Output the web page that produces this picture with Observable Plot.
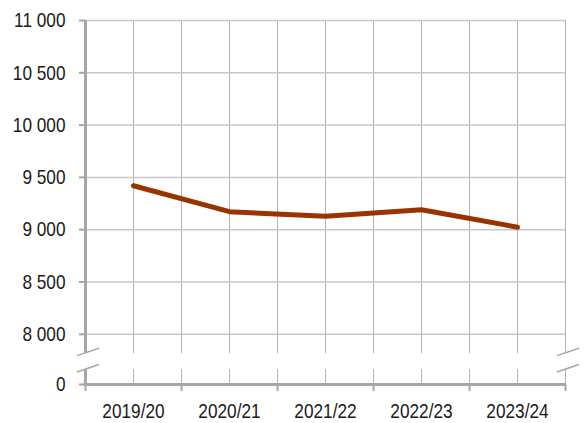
<!DOCTYPE html>
<html>
<head>
<meta charset="utf-8">
<script src="https://cdn.jsdelivr.net/npm/d3@7"></script>
<script src="https://cdn.jsdelivr.net/npm/@observablehq/plot@0.6"></script>
<style>
  body { margin: 0; background: #fff; }
</style>
</head>
<body>
<div id="chart"></div>
<script>
const years = ["2019/20", "2020/21", "2021/22", "2022/23", "2023/24"];
const values = [9420, 9172, 9128, 9190, 9024];
const yTicks = [0, 8000, 8500, 9000, 9500, 10000, 10500, 11000];
const yTickLabels = ["0", "8 000", "8 500", "9 000", "9 500", "10 000", "10 500", "11 000"];
const breakLow = 2350, breakHigh = 4950; // hidden part of the broken axis

const data = years.map((year, i) => ({ i, year, value: values[i] }));
const idx = years.map((_, i) => i);
const xMin = -0.5, xMax = years.length - 0.5;
const boundaries = d3.range(years.length + 1).map(k => k - 0.5);
const innerGrid = [...idx, ...boundaries.slice(1)];

const W = 585, H = 423, mL = 85, mR = 20, mT = 20, mB = 39;
const y8000 = 333.8;

const AXIS = "#a6a6a6";
const font = "'Liberation Sans', Arial, sans-serif";

const plot = Plot.plot({
  width: W,
  height: H,
  marginLeft: mL,
  marginRight: mR,
  marginTop: mT,
  marginBottom: mB,
  style: { fontFamily: font, fontSize: "21px", color: "#1a1a1a", background: "#fff" },
  x: { type: "linear", domain: [xMin, xMax], axis: null },
  y: { type: "linear", domain: [0, 8000, 11000], range: [H - mB, y8000, mT], axis: null },
  marks: [
    Plot.ruleX(innerGrid, { stroke: "#b4b4b4", strokeWidth: 1 }),
    Plot.ruleY(yTicks.filter(v => v > 0), { stroke: "#c8c8c8", strokeWidth: 1.5 }),
    Plot.ruleX([xMin], { stroke: AXIS, strokeWidth: 3 }),
    Plot.rect([0], { x1: xMin, x2: xMax, y1: breakLow, y2: breakHigh, fill: "white", insetLeft: -4, insetRight: -2 }),
    Plot.ruleY([0], { stroke: AXIS, strokeWidth: 3, insetLeft: -1.5 }),
    Plot.axisX({ ticks: boundaries, tickFormat: () => "", tickSize: 7, stroke: AXIS, strokeWidth: 2, label: null }),
    Plot.axisX({ ticks: idx, tickFormat: d => years[d], tickSize: 0, tickPadding: 19, fontSize: 21, fill: "#1a1a1a", label: null }),
    Plot.axisY({ ticks: yTicks, tickFormat: d => yTickLabels[yTicks.indexOf(d)], tickSize: 6, tickPadding: 14, stroke: AXIS, strokeWidth: 2, fontSize: 21, fill: "#1a1a1a", label: null }),
    Plot.line(data, { x: "i", y: "value", stroke: "#993300", strokeWidth: 5, strokeLinecap: "round", strokeLinejoin: "round" })
  ]
});

// axis-break marks (decoration drawn from the scales)
const xs = plot.scale("x"), ys = plot.scale("y");
const svg = d3.select(plot);
const yEdges = [ys.apply(breakHigh), ys.apply(breakLow)];
[xs.apply(xMin), xs.apply(xMax)].forEach(x0 => {
  yEdges.forEach(ye => {
    svg.append("line")
      .attr("x1", x0 - 8).attr("y1", ye + 2.7)
      .attr("x2", x0 + 14).attr("y2", ye - 4.7)
      .attr("stroke", AXIS).attr("stroke-width", 1.5);
  });
});

document.getElementById("chart").appendChild(plot);

// narrow the glyphs to mimic a condensed face (Arial Narrow ≈ 82% of Arial)
svg.selectAll("text").each(function () {
  const len = this.getComputedTextLength();
  if (len > 0) {
    this.setAttribute("textLength", (len * 0.82).toFixed(2));
    this.setAttribute("lengthAdjust", "spacingAndGlyphs");
  }
});
</script>
</body>
</html>
